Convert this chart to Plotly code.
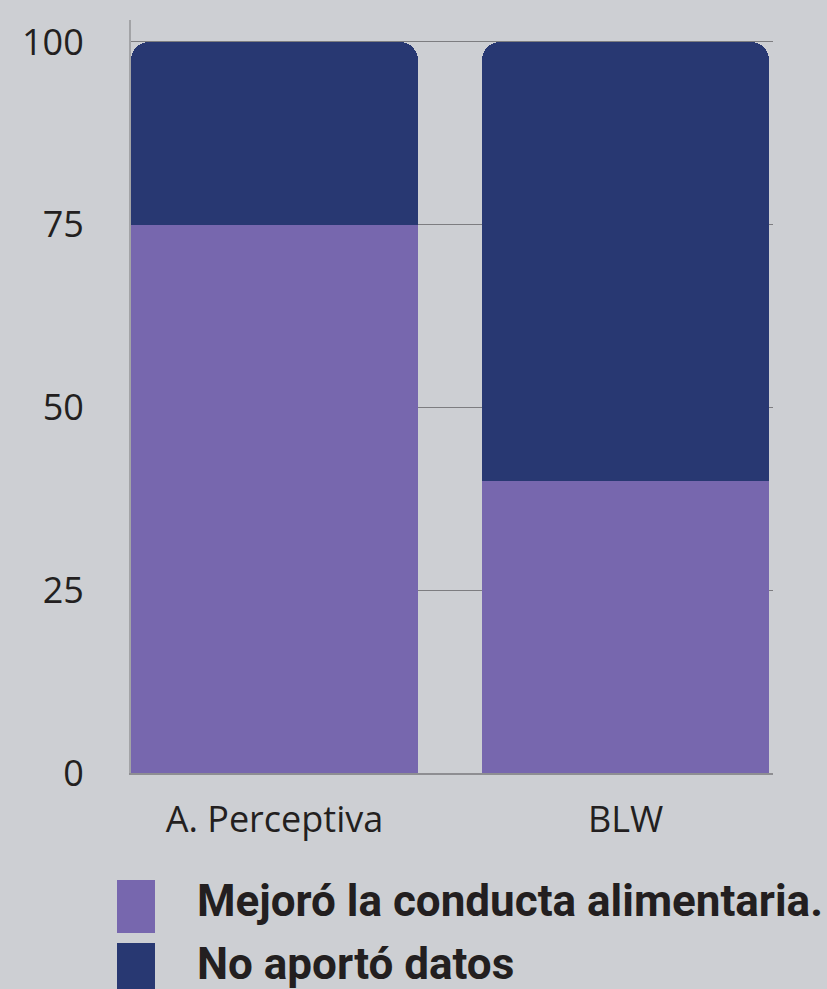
import plotly.graph_objects as go

categories = ["A. Perceptiva", "BLW"]
series_names = ["Mejoró la conducta alimentaria.", "No aportó datos"]
mejoro = [75, 40]
no_aporto = [25, 60]
colors = ["#7767ae", "#283872"]
y_ticks = [0, 25, 50, 75, 100]

W, H = 827, 989
L, R, T, B = 131, 54, 20, 216
pw, ph = W - L - R, H - T - B


def px(x):
    return (x - L) / pw


def py(y):
    return (H - B - y) / ph


fig = go.Figure()
for name, vals, col in zip(series_names, [mejoro, no_aporto], colors):
    fig.add_trace(go.Bar(x=categories, y=vals, name=name, marker=dict(color=col, line=dict(width=0)),
                         showlegend=False))

fig.update_layout(
    width=W, height=H,
    margin=dict(l=L, r=R, t=T, b=B),
    barmode="stack",
    bargap=0.183,
    barcornerradius=18,
    paper_bgcolor="#cdcfd3",
    plot_bgcolor="rgba(0,0,0,0)",
    font=dict(family="Open Sans", color="#231f20", size=36),
    xaxis=dict(range=[-0.4085, 1.42], showgrid=False, showline=True, linecolor="#8e8e92", linewidth=2,
               ticks="", tickfont=dict(size=36), ticklabelstandoff=14),
    yaxis=dict(range=[0, 103], tickvals=y_ticks, showgrid=True, gridcolor="#7d7d80", gridwidth=1,
               showline=True, linecolor="#a2a3a6", linewidth=2, ticks="", tickfont=dict(size=36),
               ticklabelstandoff=38, zeroline=False),
)

# legend swatches and labels
sw = [(880, 933), (943, 996)]
ty = [901, 964]
for (y0, y1), col, name, t in zip(sw, colors, series_names, ty):
    fig.add_shape(type="rect", xref="paper", yref="paper", x0=px(117), x1=px(155), y0=py(y1), y1=py(y0),
                  fillcolor=col, line=dict(width=0), layer="above")
    fig.add_annotation(xref="paper", yref="paper", x=px(195), y=py(t), xanchor="left", yanchor="middle",
                       text="<b>" + name + "</b>", showarrow=False,
                       font=dict(family="Roboto", size=44, color="#231f20"))

fig.write_html("out.html")
